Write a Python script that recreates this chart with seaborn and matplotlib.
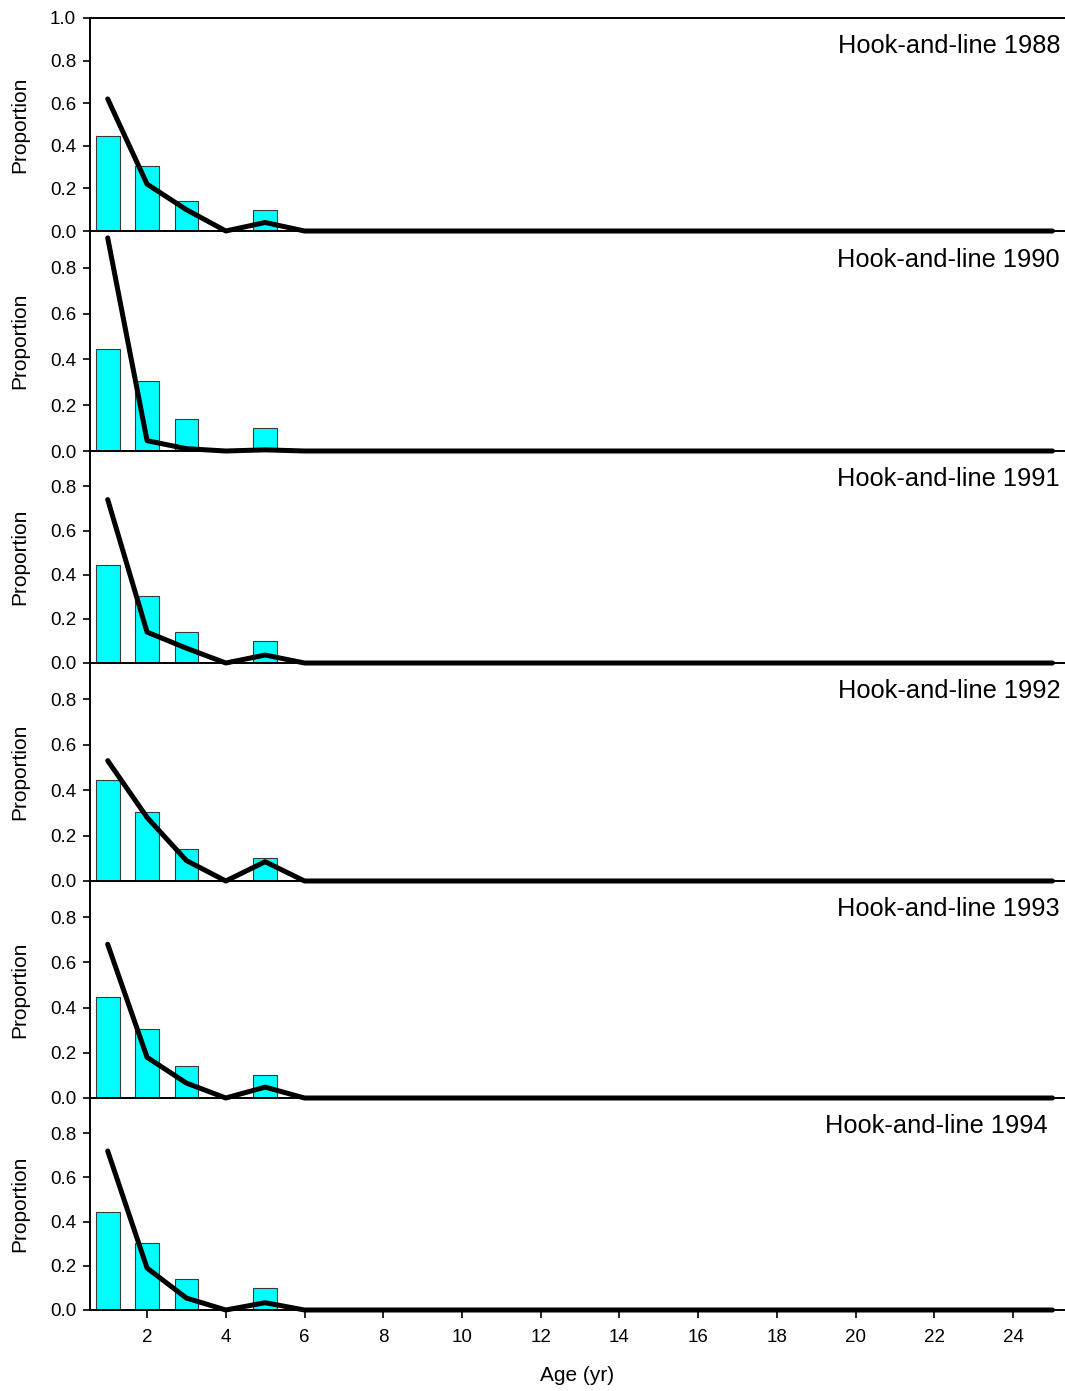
import numpy as np
import pandas as pd
import matplotlib.pyplot as plt
import seaborn as sns

# Observed age composition (same in every panel) and model fits per year
obs_ages = [1, 2, 3, 5]
obs_prop = [0.445, 0.305, 0.14, 0.10]

ages = list(range(1, 26))
years = [1988, 1990, 1991, 1992, 1993, 1994]
pred_1988 = [0.62, 0.22, 0.10, 0.0, 0.04] + [0.0] * 20
pred_1990 = [0.93, 0.045, 0.01, 0.0, 0.005] + [0.0] * 20
pred_1991 = [0.74, 0.14, 0.067, 0.0, 0.036] + [0.0] * 20
pred_1992 = [0.53, 0.28, 0.09, 0.0, 0.085] + [0.0] * 20
pred_1993 = [0.68, 0.18, 0.066, 0.0, 0.048] + [0.0] * 20
pred_1994 = [0.72, 0.19, 0.054, 0.0, 0.033] + [0.0] * 20
preds = [pred_1988, pred_1990, pred_1991, pred_1992, pred_1993, pred_1994]

sns.set_style("ticks")
plt.rcParams["font.family"] = ["Liberation Sans", "DejaVu Sans"]
plt.rcParams.update({"text.color": "black", "axes.labelcolor": "black",
                     "xtick.color": "black", "ytick.color": "black"})

fig = plt.figure(figsize=(10.65, 13.91), dpi=100)
gs = fig.add_gridspec(6, 1, height_ratios=[213, 220, 212, 218, 217, 212],
                      left=0.0845, right=1.0, top=1 - 18 / 1391, bottom=1 - 1310 / 1391,
                      hspace=0)

for i, (yr, pred) in enumerate(zip(years, preds)):
    ax = fig.add_subplot(gs[i])
    ax.patch.set_visible(False)
    ax.set_zorder(10 - i)
    sns.barplot(x=obs_ages, y=obs_prop, native_scale=True, width=0.6, color="#00FFFF",
                edgecolor="#3a3a3a", linewidth=0.8, saturation=1, ax=ax, zorder=2)
    sns.lineplot(x=ages, y=pred, color="black", lw=3.6, ax=ax, zorder=3, clip_on=False,
                 solid_capstyle="round", solid_joinstyle="round")
    ax.set_xlim(0.55, 25.32)
    if i == 0:
        ax.set_ylim(0, 1.0)
        ax.set_yticks([0, 0.2, 0.4, 0.6, 0.8, 1.0])
    else:
        ax.set_ylim(0, 0.96)
        ax.set_yticks([0, 0.2, 0.4, 0.6, 0.8])
    ax.set_yticklabels([f"{t:.1f}" for t in ax.get_yticks()])
    ax.set_ylabel("Proportion", fontsize=15)
    ax.yaxis.set_label_coords(-0.062, 0.5)
    ax.spines["right"].set_visible(False)
    ax.spines["top"].set_visible(i == 0)
    for s in ["left", "bottom", "top"]:
        ax.spines[s].set_linewidth(1.4)
        ax.spines[s].set_color("black")
    ax.tick_params(axis="y", labelsize=13.5, length=5, width=1.2, pad=5)
    ax.set_xticks(range(2, 25, 2))
    if i < 5:
        ax.tick_params(axis="x", bottom=False, labelbottom=False)
        ax.set_xlabel("")
    else:
        ax.tick_params(axis="x", labelsize=13.5, length=6, width=1.2, pad=8)
        ax.set_xlabel("Age (yr)", fontsize=15, labelpad=14)
    tx = 0.982 if yr == 1994 else 0.995
    ax.text(tx, 0.87, f"Hook-and-line {yr}", transform=ax.transAxes,
            ha="right", va="center", fontsize=18.3)

fig.savefig("out.png", dpi=100)
